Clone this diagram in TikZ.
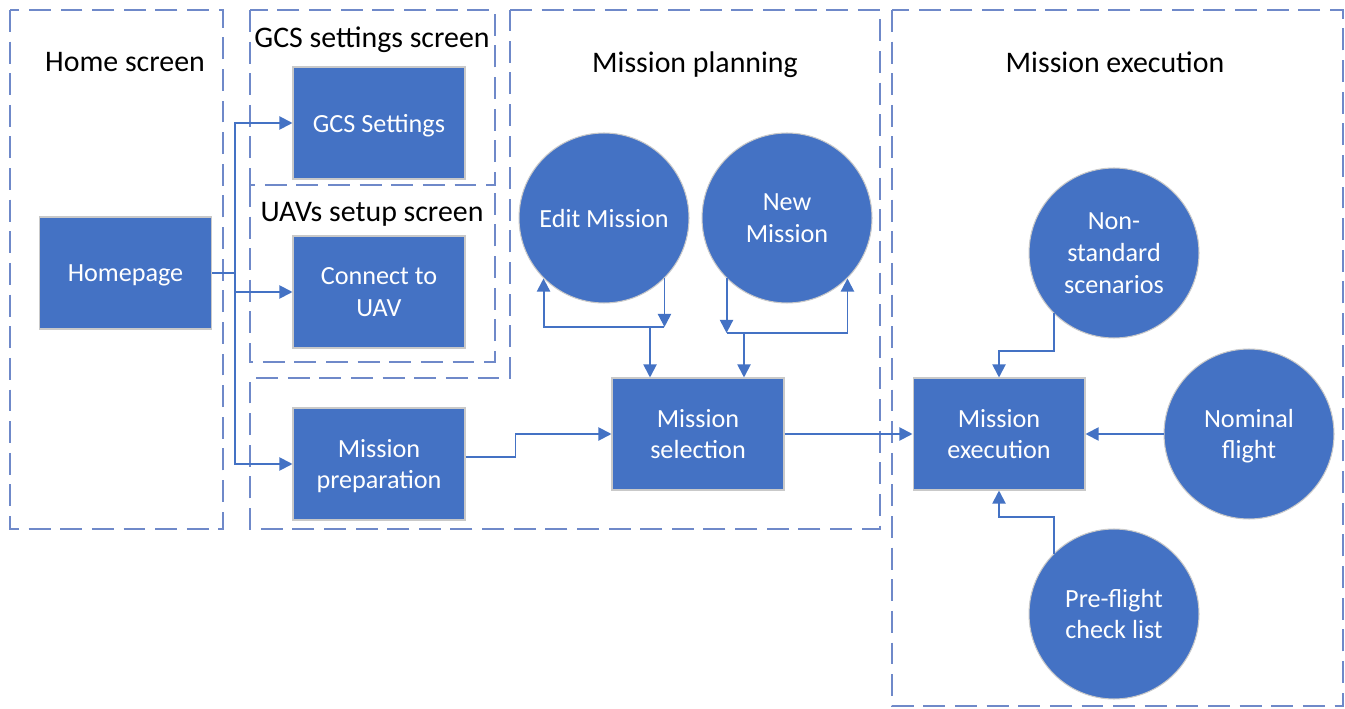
\documentclass[tikz,border=0pt]{standalone}
\usepackage{fontspec}
\setmainfont{Carlito}
\usetikzlibrary{arrows.meta}
\definecolor{boxblue}{HTML}{4472C4}
\definecolor{framecol}{HTML}{6F89C9}
\definecolor{edgegray}{HTML}{C9C9C9}

\begin{document}
\begin{tikzpicture}[x=0.02cm,y=-0.02cm, % one unit = one pixel of the sketch
    screen/.style={draw=framecol,line width=0.85pt,dash pattern=on 12.5pt off 5.5pt},
    block/.style={fill=boxblue,draw=edgegray,line width=0.6pt,text=white,inner sep=0pt,text depth=0pt,
        minimum width=3.44cm,minimum height=2.24cm,align=center,font=\fontsize{14.9}{18}\selectfont},
    bubble/.style={circle,fill=boxblue,draw=edgegray,line width=0.6pt,text=white,inner sep=0pt,text depth=0pt,
        minimum size=3.4cm,align=center,font=\fontsize{14.9}{18}\selectfont},
    title/.style={font=\fontsize{17}{20}\selectfont,text depth=0pt},
    wire/.style={draw=boxblue,line width=1.1pt},
    link/.style={wire,-{Triangle[length=7.5pt,width=7.5pt]}}]
    \fill[white] (0,0) rectangle (1345,709);
    \useasboundingbox (0,0) rectangle (1345,709);

    % screens
    \draw[screen] (10,10) rectangle (223,529);
    \draw[screen] (250,10) rectangle (495,185);
    \draw[screen] (250,185) -- (250,362) -- (495,362) -- (495,185);
    \draw[screen] (510,10) -- (880,10) -- (880,529) -- (250,529) -- (250,378) -- (510,378) -- cycle;
    \draw[screen] (892,10) rectangle (1343,706);

    \node[title] (hometitle) at (125,62) {Home screen};
    \node[title] (gcstitle) at (372,37) {GCS settings screen};
    \node[title] (uavtitle) at (372,212) {UAVs setup screen};
    \node[title] (plantitle) at (695,62) {Mission planning};
    \node[title] (exectitle) at (1115,62) {Mission execution};

    % blocks
    \node[block] (home) at (125.5,273) {Homepage};
    \node[block] (gcs) at (379,123) {GCS Settings};
    \node[block] (uav) at (379,292) {Connect to\\UAV};
    \node[block] (prep) at (379,464) {Mission\\preparation};
    \node[block] (sel) at (698,434) {Mission\\selection};
    \node[block] (exec) at (999,434) {Mission\\execution};

    \node[bubble] (edit) at (604,218) {Edit Mission};
    \node[bubble] (new) at (787,218) {New\\Mission};
    \node[bubble] (nonstd) at (1114,253) {Non-\\standard\\scenarios};
    \node[bubble] (nominal) at (1249,434) {Nominal\\flight};
    \node[bubble] (preflight) at (1114,614) {Pre-flight\\check list};

    % connectors
    \coordinate (split) at (235,273);
    \draw[wire] (home.east) -- (split);
    \draw[link] (split) |- (gcs.west);
    \draw[link] (split) |- (uav.west);
    \draw[link] (split) |- (prep.west);

    \draw[link] ([yshift=0.14cm]prep.east) -- ++(50,0) |- (sel.west);
    \draw[link] (sel.east) -- (exec.west);

    \coordinate (editjoin) at (650,327);
    \draw[link] (edit.-45) -- (edit.-45 |- editjoin);
    \draw[link] (edit.-45 |- editjoin) -| (edit.225);
    \draw[link] (editjoin) -- (editjoin |- sel.north);

    \coordinate (newjoin) at (744,333);
    \draw[link] (new.225) -- (new.225 |- newjoin);
    \draw[link] (new.225 |- newjoin) -| (new.-45);
    \draw[link] (newjoin) -- (newjoin |- sel.north);

    \coordinate (topbend) at (999,351);
    \coordinate (botbend) at (999,517);
    \draw[link] (nonstd.225) |- (topbend) -- (exec.north);
    \draw[link] (nominal.west) -- (exec.east);
    \draw[link] (preflight.135) |- (botbend) -- (exec.south);
\end{tikzpicture}
\end{document}
